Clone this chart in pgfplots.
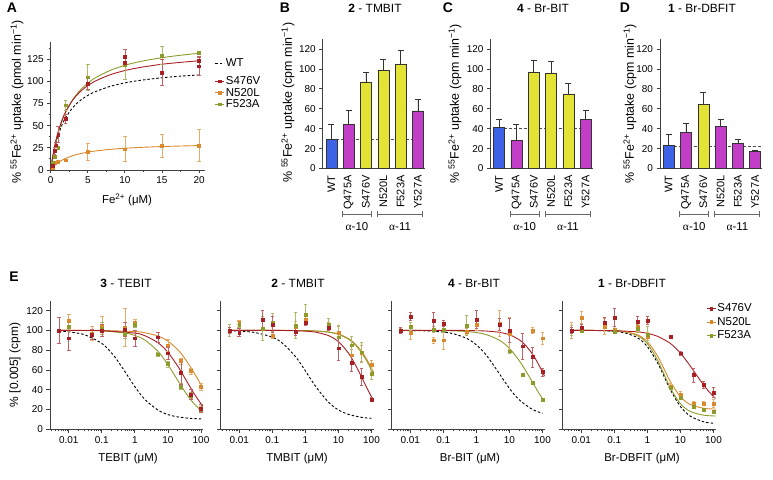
\documentclass[border=0pt]{standalone}
\usepackage{fontspec}
\setmainfont{Liberation Sans}
\newfontfamily\grk{Liberation Serif}
\usepackage{pgfplots}
\pgfplotsset{compat=1.18}
\pgfkeys{/pgf/number format/assume math mode=true}
\definecolor{cS}{HTML}{A81F24}
\definecolor{cN}{HTML}{DA8A2C}
\definecolor{cF}{HTML}{8E9B2B}
\definecolor{cB}{HTML}{3E62E6}
\definecolor{cM}{HTML}{C23EC6}
\definecolor{cY}{HTML}{E3E335}
\newcommand{\fs}[1]{\fontsize{#1}{#1}\selectfont}
\pgfplotsset{
 prism/.style={scale only axis, axis lines*=left, tick align=outside,
   axis line style={-, line width=0.8bp, black!75},
   every tick/.style={line width=0.8bp, black!75},
   major tick length=3.5bp, minor tick length=2bp,
   tick label style={font=\fs{10}, black},
   clip=false, anchor=south west},
 crv/.style={no markers, smooth, line width=0.9bp},
 wt/.style={no markers, smooth, line width=0.9bp, black, dash pattern=on 2.5bp off 2bp},
 pts/.style={only marks, mark=square*, mark size=1.4bp, color=#1,
   error bars/y dir=both, error bars/y explicit,
   error bars/error bar style={line width=0.6bp, #1!70},
   error bars/error mark options={rotate=90, mark size=1.8bp, line width=0.6bp, #1!70}},
 bars/.style={ybar, bar width=11bp, bar shift=0pt, fill=#1, draw=black!80, line width=0.5bp,
   error bars/y dir=plus, error bars/y explicit,
   error bars/error bar style={line width=0.6bp, black!80},
   error bars/error mark options={rotate=90, mark size=3bp, line width=0.6bp, black!80}},
 legimg/.style={legend image code/.code={\draw[mark repeat=2,mark phase=2,##1] plot coordinates {(0bp,0bp) (4.5bp,0bp) (9bp,0bp)};}},
 barax/.style={prism, width=102.1bp, height=129.4bp, xmin=-0.5, xmax=5.4, ymin=0, ymax=130,
   ytick={0,20,40,60,80,100,120}, xtick={0,1,2,3,4,5},
   xticklabels={WT,Q475A,S476V,N520L,F523A,Y527A},
   x tick label style={rotate=90, anchor=east, font=\fs{11}},
   every x tick/.style={draw=none}},
 eax/.style={prism, width=153bp, height=128.6bp, xmin=0.0027, xmax=115, ymin=0, ymax=130,
   xtick={0.01,0.1,1,10,100}, xticklabels={0.01,0.1,1,10,100},
   minor xtick={0.003,0.004,0.005,0.006,0.007,0.008,0.009,0.02,0.03,0.04,0.05,0.06,0.07,0.08,0.09,0.2,0.3,0.4,0.5,0.6,0.7,0.8,0.9,2,3,4,5,6,7,8,9,20,30,40,50,60,70,80,90},
   ytick={0,20,40,60,80,100,120}},
}
\newcommand{\brk}{%
  \draw[black!60, line width=0.8bp] ([yshift=-45.5bp]axis cs:0.64,0) -- ([yshift=-45.5bp]axis cs:2.32,0);
  \draw[black!60, line width=0.8bp] ([yshift=-42.5bp]axis cs:0.64,0) -- ([yshift=-48.5bp]axis cs:0.64,0);
  \draw[black!60, line width=0.8bp] ([yshift=-42.5bp]axis cs:2.32,0) -- ([yshift=-48.5bp]axis cs:2.32,0);
  \draw[black!60, line width=0.8bp] ([yshift=-45.5bp]axis cs:2.66,0) -- ([yshift=-45.5bp]axis cs:5.27,0);
  \draw[black!60, line width=0.8bp] ([yshift=-42.5bp]axis cs:2.66,0) -- ([yshift=-48.5bp]axis cs:2.66,0);
  \draw[black!60, line width=0.8bp] ([yshift=-42.5bp]axis cs:5.27,0) -- ([yshift=-48.5bp]axis cs:5.27,0);
  \node[font=\fs{11.5}] at ([yshift=-58.5bp]axis cs:1.48,0) {{\grk α}-10};
  \node[font=\fs{11.5}] at ([yshift=-58.5bp]axis cs:3.97,0) {{\grk α}-11};
}
\begin{document}
\begin{tikzpicture}[x=1bp,y=1bp]
\useasboundingbox (0,0) rectangle (773,480);

% ---------------- Panel A ----------------
\begin{axis}[scale only axis, hide axis, anchor=south west, at={(50.7bp,310bp)}, width=154.3bp, height=128.3bp,
  xmin=0, xmax=1, ymin=0, ymax=1, legimg,
  legend style={at={(axis description cs:1.044,0.889)}, anchor=north west, draw=none, fill=none,
    font=\fs{11.5}, nodes={inner sep=1bp}}, legend cell align=left]
\addplot[draw=none, forget plot] coordinates {(0,0)};
\addlegendimage{black, line width=0.9bp, dash pattern=on 2.5bp off 2bp}
\addlegendentry{WT}
\end{axis}
\begin{axis}[prism, legimg, at={(50.7bp,310bp)}, width=154.3bp, height=128.3bp,
  xmin=0, xmax=20.8, ymin=0, ymax=144.5,
  xtick={0,5,10,15,20}, minor xtick={2.5,7.5,12.5,17.5},
  ytick={0,25,50,75,100,125}, minor ytick={12.5,37.5,62.5,87.5,112.5,137.5},
  legend style={at={(axis description cs:1.044,0.752)}, anchor=north west, draw=none, fill=none,
    font=\fs{11.5}, row sep=0bp, nodes={inner sep=1bp}}, legend cell align=left]
\addlegendimage{cS, line width=0.9bp, mark=square*, mark size=1.4bp}
\addlegendentry{S476V}
\addlegendimage{cN, line width=0.9bp, mark=square*, mark size=1.4bp}
\addlegendentry{N520L}
\addlegendimage{cF, line width=0.9bp, mark=square*, mark size=1.4bp}
\addlegendentry{F523A}
\addplot[wt, forget plot] coordinates {(0,0)(0.25,13.0)(0.5,23.5)(0.75,32.0)(1,39.1)(1.5,50.3)(2,58.8)(3,70.5)(4,78.4)(5,84.0)(6,88.2)(8,94.1)(10,98.1)(12,100.9)(15,103.9)(18,106.0)(20,107.0)};
\addplot[crv, cN, forget plot] coordinates {(0,0)(0.25,2.6)(0.5,4.8)(0.75,6.6)(1,8.3)(1.5,10.9)(2,13.1)(3,16.2)(4,18.4)(5,20.1)(6,21.4)(8,23.2)(10,24.5)(12,25.4)(15,26.4)(18,27.1)(20,27.5)};
\addplot[crv, cF, forget plot] coordinates {(0,0)(0.25,13.1)(0.5,24.0)(0.75,33.3)(1,41.3)(1.5,54.4)(2,64.7)(3,79.6)(4,90.1)(5,97.8)(6,103.7)(8,112.1)(10,117.9)(12,122.1)(15,126.5)(18,129.7)(20,131.4)};
\addplot[crv, cS, forget plot] coordinates {(0,0)(0.25,14.1)(0.5,25.5)(0.75,35.0)(1,43.0)(1.5,55.7)(2,65.4)(3,79.1)(4,88.4)(5,95.0)(6,100.1)(8,107.2)(10,112.0)(12,115.4)(15,119.1)(18,121.6)(20,123.0)};
\addplot[pts=cN, forget plot] coordinates {(0.25,3)+-(0,1) (0.5,8)+-(0,1) (1,9)+-(0,2) (2,11)+-(0,1) (5,20.5)+-(0,10) (10,23.5)+-(0,14) (15,27.4)+-(0,13) (20,27.8)+-(0,18)};
\addplot[pts=cF, forget plot] coordinates {(0.25,8)+-(0,1) (0.5,15)+-(0,2) (1,25)+-(0,2) (2,73)+-(0,6) (5,104.5)+-(0,14.5) (10,119)+-(0,17) (15,129)+-(0,10) (20,132)+-(0,2)};
\addplot[pts=cS, forget plot] coordinates {(0.25,5)+-(0,2) (0.5,22)+-(0,4) (0.75,28)+-(0,3) (1,40)+-(0,9) (2,58)+-(0,5) (5,97)+-(0,6) (10,128)+-(0,8) (15,110)+-(0,15) (20,117)+-(0,10)};
\addplot[pts=cS, forget plot] coordinates {(10,121)+-(0,0) (20,123)+-(0,5)};
\end{axis}

% ---------------- Panel B ----------------
\begin{axis}[barax, at={(322.7bp,311.5bp)}]
\addplot[densely dashed, black!70, line width=0.6bp] coordinates {(0,29) (5.4,29)};
\addplot[bars=cB] coordinates {(0,29)+-(0,15)};
\addplot[bars=cM] coordinates {(1,44)+-(0,14) (5,58)+-(0,12)};
\addplot[bars=cY] coordinates {(2,87)+-(0,10) (3,99)+-(0,11) (4,105)+-(0,14)};
\brk
\end{axis}

% ---------------- Panel C ----------------
\begin{axis}[barax, at={(490.5bp,311.5bp)}]
\addplot[densely dashed, black!70, line width=0.6bp] coordinates {(0,40.5) (5.4,40.5)};
\addplot[bars=cB] coordinates {(0,41)+-(0,8)};
\addplot[bars=cM] coordinates {(1,28)+-(0,16) (5,49)+-(0,9)};
\addplot[bars=cY] coordinates {(2,97)+-(0,12) (3,96)+-(0,12) (4,75)+-(0,11)};
\brk
\end{axis}

% ---------------- Panel D ----------------
\begin{axis}[barax, at={(660bp,311.5bp)}]
\addplot[densely dashed, black!70, line width=0.6bp] coordinates {(0,22) (5.4,22)};
\addplot[bars=cB] coordinates {(0,23)+-(0,11)};
\addplot[bars=cM] coordinates {(1,36)+-(0,9) (3,42)+-(0,7) (4,25)+-(0,4) (5,17)+-(0,1)};
\addplot[bars=cY] coordinates {(2,65)+-(0,12)};
\brk
\end{axis}

% ---------------- Panel E1 ----------------
\begin{semilogxaxis}[eax, at={(50bp,50.7bp)}]
\addplot[wt] coordinates {(0.005,99.2)(0.01,98.5)(0.03,95.6)(0.1,86.8)(0.2,76.9)(0.3,69.3)(0.5,58.3)(1,43.0)(2,30.2)(5,19.4)(10,14.9)(20,12.5)(50,11.0)(100,10.5)};
\addplot[crv, cN] coordinates {(0.005,100)(0.03,100)(0.1,99.9)(1,98.8)(2,97.6)(5,94.3)(10,89.1)(20,80.4)(30,73.2)(50,62.1)(70,54.0)(100,45.1)(115,41.6)};
\addplot[crv, cF] coordinates {(0.005,100)(0.03,99.8)(0.1,99.5)(0.5,97.3)(1,94.8)(2,90.2)(5,78.8)(10,65.3)(20,49.2)(30,39.9)(50,29.5)(70,23.9)(100,19.1)(115,17.5)};
\addplot[crv, cS] coordinates {(0.005,100)(0.03,99.9)(0.1,99.7)(1,97.2)(2,94.6)(5,87.5)(10,77.8)(20,63.6)(30,53.8)(50,41.2)(70,33.3)(100,25.9)(115,23.3)};
\addplot[pts=cN] coordinates {(0.01,110)+-(0,6) (0.05,97)+-(0,7) (0.1,104)+-(0,10) (0.5,103)+-(0,19) (1,108)+-(0,3) (5,93)+-(0,5) (10,85)+-(0,6) (25,69)+-(0,3) (50,59)+-(0,3) (100,43)+-(0,4)};
\addplot[pts=cF] coordinates {(0.01,104)+-(0,5) (0.1,102)+-(0,6) (0.5,97)+-(0,5) (1,106)+-(0,3) (5,76)+-(0,2) (10,66)+-(0,3) (25,43)+-(0,3) (50,34)+-(0,3) (100,20)+-(0,3)};
\addplot[pts=cS] coordinates {(0.005,100)+-(0,13) (0.01,92)+-(0,12) (0.05,96)+-(0,5) (0.1,100)+-(0,6) (0.5,101)+-(0,7) (1,92)+-(0,8) (5,93)+-(0,5) (10,77)+-(0,6) (25,57)+-(0,12) (50,35)+-(0,5) (100,21)+-(0,4)};
\end{semilogxaxis}

% ---------------- Panel E2 ----------------
\begin{semilogxaxis}[eax, at={(220.5bp,50.7bp)}, yticklabels={}]
\addplot[wt] coordinates {(0.005,99.6)(0.01,99.3)(0.03,97.8)(0.1,93.1)(0.2,87.1)(0.5,73.5)(1,59.1)(2,43.7)(5,27.4)(10,19.6)(20,15.1)(50,12.1)(100,11.1)};
\addplot[crv, cN] coordinates {(0.005,100)(0.1,100)(1,99.8)(2,99.4)(5,98.3)(10,96.3)(20,91.8)(30,87.3)(50,78.9)(70,71.4)(100,61.9)(115,57.9)};
\addplot[crv, cF] coordinates {(0.005,100)(0.1,100)(1,99.7)(2,99.4)(5,98.2)(10,96.0)(20,91.2)(30,86.4)(50,77.5)(70,69.7)(100,60.0)(115,55.9)};
\addplot[crv, cS] coordinates {(0.005,100)(0.1,100)(0.5,99.6)(1,99.2)(2,98.2)(5,94.7)(10,88.6)(20,77.1)(30,67.4)(50,52.9)(70,42.8)(100,32.8)(115,29.2)};
\addplot[pts=cN] coordinates {(0.01,108)+-(0,2) (0.1,95)+-(0,3) (0.5,104)+-(0,5) (1,111)+-(0,4) (5,104)+-(0,4) (10,98)+-(0,6) (25,75)+-(0,6) (50,77)+-(0,8) (100,65)+-(0,5)};
\addplot[pts=cF] coordinates {(0.005,100)+-(0,6) (0.01,106)+-(0,3) (0.05,102)+-(0,12) (0.1,108)+-(0,9) (0.5,105)+-(0,13) (1,116)+-(0,10) (5,106)+-(0,6) (10,93)+-(0,12) (25,85)+-(0,9) (50,78)+-(0,10) (100,56)+-(0,5)};
\addplot[pts=cS] coordinates {(0.005,100)+-(0,3) (0.01,98)+-(0,4) (0.05,111)+-(0,9) (0.1,106)+-(0,8) (0.5,99)+-(0,4) (1,108)+-(0,3) (5,103)+-(0,3) (10,82)+-(0,12) (25,67)+-(0,8) (50,53)+-(0,9) (100,30)+-(0,2)};
\end{semilogxaxis}

% ---------------- Panel E3 ----------------
\begin{semilogxaxis}[eax, at={(391.5bp,50.7bp)}, yticklabels={}]
\addplot[wt] coordinates {(0.005,99.9)(0.01,99.8)(0.03,99.5)(0.1,98.3)(0.2,96.6)(0.5,92.0)(1,85.3)(2,74.9)(5,56.0)(10,41.3)(20,29.6)(50,20.0)(100,16.2)};
\addplot[crv, cF] coordinates {(0.005,100)(0.03,99.9)(0.1,99.8)(0.5,98.9)(1,97.8)(2,95.7)(5,90.0)(10,81.8)(20,69.2)(30,60.0)(50,47.4)(70,39.1)(100,31.0)(115,28.1)};
\addplot[crv, cS] coordinates {(0.005,100)(0.1,100)(0.5,99.9)(1,99.7)(2,99.3)(5,98.0)(10,95.6)(20,90.4)(30,85.3)(50,75.9)(70,67.8)(100,57.8)(115,53.7)};
\addplot[pts=cN] coordinates {(0.005,100)+-(0,2) (0.01,98)+-(0,7) (0.05,90)+-(0,3) (0.1,90)+-(0,9) (0.5,99)+-(0,3) (1,106)+-(0,6) (5,107)+-(0,13) (10,97)+-(0,16) (50,100)+-(0,3) (100,92)+-(0,6)};
\addplot[pts=cF] coordinates {(0.01,104)+-(0,4) (0.05,101)+-(0,3) (0.1,101)+-(0,3) (0.5,105)+-(0,10) (10,79)+-(0,2) (25,55)+-(0,1) (50,47)+-(0,2) (100,30)+-(0,1)};
\addplot[pts=cS] coordinates {(0.005,100)+-(0,3) (0.01,114)+-(0,4) (0.05,110)+-(0,8) (0.1,107)+-(0,3) (1,111)+-(0,9) (5,106)+-(0,6) (10,100)+-(0,12) (25,84)+-(0,13) (50,73)+-(0,10) (100,58)+-(0,4)};
\end{semilogxaxis}

% ---------------- Panel E4 ----------------
\begin{semilogxaxis}[eax, legimg, at={(562.5bp,50.7bp)}, yticklabels={},
  legend style={at={(axis description cs:0.92,1.0)}, anchor=north west, draw=none, fill=none,
    font=\fs{11.5}, row sep=2bp, nodes={inner sep=1bp}}, legend cell align=left]
\addlegendimage{cS, line width=0.9bp, mark=square*, mark size=1.4bp}
\addlegendentry{S476V}
\addlegendimage{cN, line width=0.9bp, mark=square*, mark size=1.4bp}
\addlegendentry{N520L}
\addlegendimage{cF, line width=0.9bp, mark=square*, mark size=1.4bp}
\addlegendentry{F523A}
\addplot[wt, forget plot] coordinates {(0.005,100)(0.01,99.95)(0.03,99.8)(0.1,99.0)(0.2,97.6)(0.5,92.6)(1,83.5)(2,67.5)(3,55.4)(5,39.7)(10,23.0)(20,13.2)(50,7.6)(100,6.1)};
\addplot[crv, cF, forget plot] coordinates {(0.005,100)(0.03,99.9)(0.1,99.5)(0.2,98.6)(0.5,94.7)(1,86.5)(2,70.3)(3,57.6)(5,41.5)(10,25.8)(20,18.0)(50,14.3)(100,13.5)(115,13.4)};
\addplot[crv, cN, forget plot] coordinates {(0.005,100)(0.03,99.9)(0.1,99.6)(0.2,98.8)(0.5,95.5)(1,88.6)(2,74.4)(3,62.9)(5,48.0)(10,32.8)(20,25.0)(50,21.3)(100,20.5)(115,20.4)};
\addplot[crv, cS, forget plot] coordinates {(0.005,100)(0.03,99.9)(0.1,99.7)(0.5,98.5)(1,97.0)(2,94.1)(5,86.7)(10,77.0)(20,63.8)(30,55.3)(50,44.8)(70,38.7)(100,33.1)(115,31.2)};
\addplot[pts=cN, forget plot] coordinates {(0.005,100)+-(0,8) (0.01,113)+-(0,6) (0.05,104)+-(0,8) (0.1,101)+-(0,3) (0.5,104)+-(0,5) (1,94)+-(0,4) (5,43)+-(0,3) (10,35)+-(0,3) (25,26)+-(0,2) (50,26)+-(0,2) (100,26)+-(0,4)};
\addplot[pts=cF, forget plot] coordinates {(0.005,100)+-(0,5) (0.01,100)+-(0,2) (0.1,99)+-(0,2) (0.5,102)+-(0,4) (1,96)+-(0,8) (5,42)+-(0,2) (10,32)+-(0,2) (25,23)+-(0,2) (50,20)+-(0,1) (100,18)+-(0,1)};
\addplot[pts=cS, forget plot] coordinates {(0.005,100)+-(0,3) (0.01,103)+-(0,3) (0.05,108)+-(0,5) (0.1,113)+-(0,9) (0.5,109)+-(0,5) (1,110)+-(0,4) (5,94)+-(0,0) (10,77)+-(0,2) (25,55)+-(0,7) (50,45)+-(0,4) (100,37)+-(0,5)};
\end{semilogxaxis}

% ---------------- Text ----------------
\node[font=\fs{14}\bfseries] at (12,472) {A};
\node[font=\fs{14}\bfseries] at (285,472) {B};
\node[font=\fs{14}\bfseries] at (448,472) {C};
\node[font=\fs{14}\bfseries] at (625,472) {D};
\node[font=\fs{14}\bfseries] at (14,203) {E};
\node[font=\fs{12}] at (375,472) {\textbf{2} - TMBIT};
\node[font=\fs{12}] at (543,472) {\textbf{4} - Br-BIT};
\node[font=\fs{12}] at (702,472) {\textbf{1} - Br-DBFIT};
\node[font=\fs{12}] at (126,197) {\textbf{3} - TEBIT};
\node[font=\fs{12}] at (298,197) {\textbf{2} - TMBIT};
\node[font=\fs{12}] at (474,197) {\textbf{4} - Br-BIT};
\node[font=\fs{12}] at (632,197) {\textbf{1} - Br-DBFIT};
\node[font=\fs{12.5}, rotate=90] at (17,378) {\% \textsuperscript{55}Fe\textsuperscript{2+} uptake (pmol min\textsuperscript{−1})};
\node[font=\fs{11.5}] at (127,280) {Fe\textsuperscript{2+} (μM)};
\node[font=\fs{12.5}, rotate=90] at (288,377.5) {\% \textsuperscript{55}Fe\textsuperscript{2+} uptake (cpm min\textsuperscript{−1})};
\node[font=\fs{12.5}, rotate=90] at (455,376) {\% \textsuperscript{55}Fe\textsuperscript{2+} uptake (cpm min\textsuperscript{−1})};
\node[font=\fs{12.5}, rotate=90] at (630,376) {\% \textsuperscript{55}Fe\textsuperscript{2+} uptake (cpm min\textsuperscript{−1})};
\node[font=\fs{12}, rotate=90] at (15,115) {\% [0.005] (cpm)};
\node[font=\fs{11.5}] at (128,21) {TEBIT (μM)};
\node[font=\fs{11.5}] at (297,21) {TMBIT (μM)};
\node[font=\fs{11.5}] at (470,21) {Br-BIT (μM)};
\node[font=\fs{11.5}] at (642,21) {Br-DBFIT (μM)};
\end{tikzpicture}
\end{document}
